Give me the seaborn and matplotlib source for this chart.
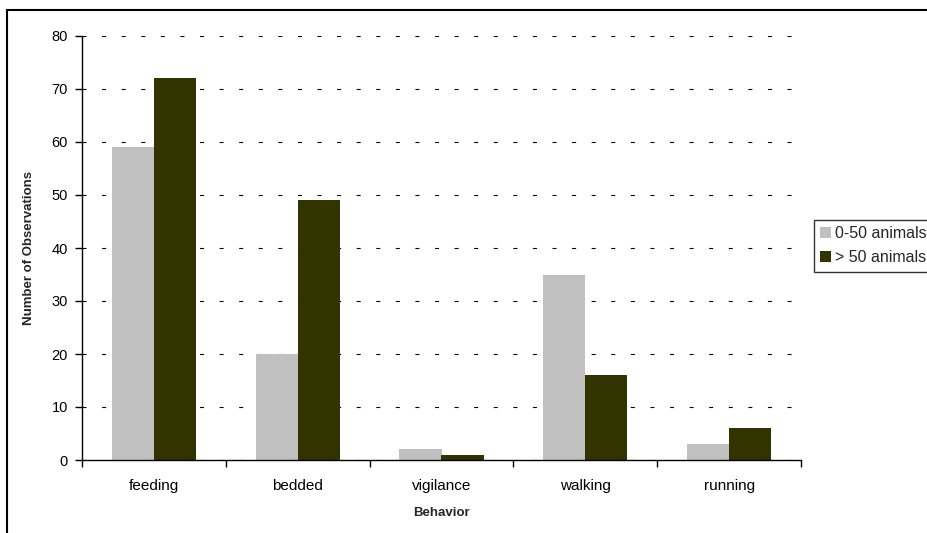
import matplotlib
matplotlib.use("Agg")
import matplotlib.pyplot as plt
from matplotlib.patches import Rectangle
import seaborn as sns
import pandas as pd

behaviors = ["feeding", "bedded", "vigilance", "walking", "running"]
group_names = ["0-50 animals", "> 50 animals"]
small_groups = [59, 20, 2, 35, 3]
large_groups = [72, 49, 1, 16, 6]
y_ticks = [0, 10, 20, 30, 40, 50, 60, 70, 80]
colors = ["#C0C0C0", "#333300"]

df = pd.DataFrame({
    "Behavior": behaviors * 2,
    "Group": [group_names[0]] * len(behaviors) + [group_names[1]] * len(behaviors),
    "Count": small_groups + large_groups,
})

sns.set_theme(style="white")
plt.rcParams["font.family"] = ["Liberation Sans", "DejaVu Sans"]
plt.rcParams["lines.scale_dashes"] = False

fig = plt.figure(figsize=(9.28, 5.33), dpi=100)
ax = fig.add_axes([82 / 928, 1 - 460 / 533, (801 - 82) / 928, (460 - 36) / 533])

sns.barplot(data=df, x="Behavior", y="Count", hue="Group", order=behaviors,
            hue_order=group_names, palette=colors, width=0.585, gap=0,
            saturation=1, linewidth=0, ax=ax, legend=True)

ax.set_ylim(0, 80)
ax.set_xlim(-0.5, 4.5)
ax.set_yticks(y_ticks)
ax.yaxis.grid(True, color="black", linewidth=0.8, linestyle=(0, (2.9, 11.2)))
ax.set_axisbelow(True)

for side in ["top", "right"]:
    ax.spines[side].set_visible(False)
for side in ["left", "bottom"]:
    ax.spines[side].set_color("black")
    ax.spines[side].set_linewidth(1.0)

ax.tick_params(axis="y", which="major", direction="out", length=5, width=1,
               color="black", labelsize=10.5, labelcolor="black", left=True, pad=5)
ax.set_xticks(range(len(behaviors)))
ax.set_xticks([i - 0.5 for i in range(len(behaviors) + 1)], minor=True)
ax.tick_params(axis="x", which="major", length=0, labelsize=11,
               labelcolor="black", pad=14)
ax.tick_params(axis="x", which="minor", direction="out", length=5, width=1,
               color="black", bottom=True)

ax.set_xlabel("Behavior", fontsize=9.5, fontweight="bold", labelpad=10)
ax.set_ylabel("Number of Observations", fontsize=9.5, fontweight="bold", labelpad=12)

leg = ax.legend(loc="upper left", bbox_to_anchor=(814 / 928, 1 - 220 / 533),
                bbox_transform=fig.transFigure, frameon=True, fancybox=False,
                fontsize=11.5, handlelength=0.65, handleheight=0.65,
                handletextpad=0.25, labelspacing=0.55, borderpad=0.4,
                borderaxespad=0)
leg.get_frame().set_edgecolor("black")
leg.get_frame().set_linewidth(1.0)

# Chart-area frame around the whole figure
fig.patches.append(Rectangle((7 / 928, -0.1), 1.2, (1 - 10 / 533) + 0.1,
                             transform=fig.transFigure, fill=False,
                             edgecolor="black", linewidth=1.5, clip_on=False))

fig.savefig("out.png", dpi=100)
